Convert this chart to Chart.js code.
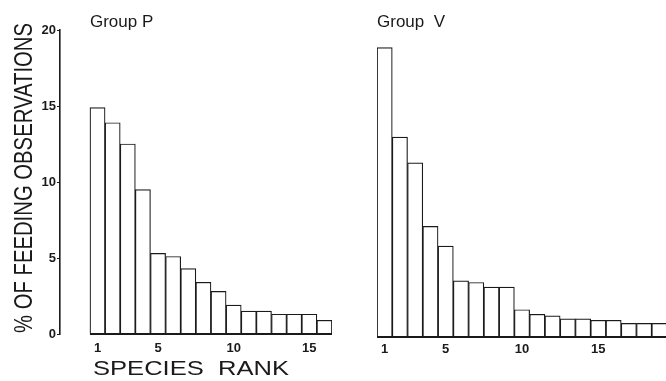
<!DOCTYPE html>
<html>
<head>
<meta charset="utf-8">
<script src="https://cdn.jsdelivr.net/npm/chart.js@4.4.1/dist/chart.umd.min.js"></script>
<style>
  html, body { margin: 0; padding: 0; background: #fff; overflow: hidden; }
  #wrap { position: relative; width: 666px; height: 381px; overflow: hidden; }
  #leftCanvas { position: absolute; left: 0; top: 0; }
  #rightCanvas { position: absolute; left: 340px; top: 0; }
</style>
</head>
<body>
<div id="wrap">
  <canvas id="leftCanvas" width="340" height="381"></canvas>
  <canvas id="rightCanvas" width="340" height="381"></canvas>
</div>
<script>
// species rank vs % of feeding observations, two groups
const ranksP = [1, 2, 3, 4, 5, 6, 7, 8, 9, 10, 11, 12, 13, 14, 15, 16];
const groupP = [14.9, 13.9, 12.5, 9.5, 5.3, 5.1, 4.3, 3.4, 2.8, 1.9, 1.5, 1.5, 1.3, 1.3, 1.3, 0.9];

const ranksV = [1, 2, 3, 4, 5, 6, 7, 8, 9, 10, 11, 12, 13, 14, 15, 16, 17, 18, 19];
const groupV = [19.1, 13.2, 11.5, 7.3, 6.0, 3.7, 3.6, 3.3, 3.3, 1.8, 1.5, 1.4, 1.2, 1.2, 1.1, 1.1, 0.9, 0.9, 0.9];

const rankTicks = [1, 5, 10, 15];
const percentTicks = [0, 5, 10, 15, 20];

const INK = '#1a1a1a';
const tickFont = { family: 'Liberation Sans, Arial, sans-serif', size: 13, weight: 'bold' };

// draws text stretched/squeezed horizontally to a given width
function fitText(ctx, text, x, y, width) {
  const w = ctx.measureText(text).width;
  ctx.save();
  ctx.translate(x, y);
  ctx.scale(width / w, 1);
  ctx.textAlign = 'center';
  ctx.fillText(text, 0, 0);
  ctx.restore();
}

// thick baseline under the bars plus the panel captions
const panelDecor = {
  id: 'panelDecor',
  afterDatasetsDraw(chart, args, opts) {
    const ctx = chart.ctx;
    const xs = chart.scales.x, ys = chart.scales.y;
    const n = chart.data.datasets[0].data.length;
    ctx.save();
    ctx.strokeStyle = INK;
    ctx.lineWidth = 2.2;
    ctx.beginPath();
    ctx.moveTo(xs.getPixelForValue(0.5), ys.getPixelForValue(0));
    ctx.lineTo(xs.getPixelForValue(n + 0.5), ys.getPixelForValue(0));
    ctx.stroke();

    ctx.fillStyle = INK;
    ctx.font = '17px "Liberation Sans", Arial, sans-serif';
    ctx.textAlign = 'left';
    ctx.textBaseline = 'alphabetic';
    ctx.fillText(opts.title, xs.getPixelForValue(0.5), 27);

    if (opts.xTitle) {
      ctx.font = '21px "Liberation Sans", Arial, sans-serif';
      fitText(ctx, opts.xTitle, 191, 375, 196);
    }
    if (opts.yTitle) {
      ctx.translate(32, 178);
      ctx.rotate(-Math.PI / 2);
      ctx.font = '26px "Liberation Sans", Arial, sans-serif';
      fitText(ctx, opts.yTitle, 0, 0, 310);
    }
    ctx.restore();
  }
};

function makePanel(id, ranks, values, cfg) {
  return new Chart(document.getElementById(id).getContext('2d'), {
    type: 'bar',
    data: {
      datasets: [{
        data: ranks.map((r, i) => ({ x: r, y: values[i] })),
        backgroundColor: '#ffffff',
        borderColor: INK,
        borderWidth: 1.2,
        barPercentage: 1,
        categoryPercentage: 1
      }]
    },
    options: {
      responsive: false,
      animation: false,
      events: [],
      layout: { padding: cfg.padding },
      plugins: {
        legend: { display: false },
        tooltip: { enabled: false },
        panelDecor: { title: cfg.title, xTitle: cfg.xTitle, yTitle: cfg.yTitle }
      },
      scales: {
        x: {
          type: 'linear',
          offset: false,
          min: cfg.xMin,
          max: ranks.length + 0.5,
          grid: { display: false, offset: false },
          border: { display: false },
          afterBuildTicks: s => { s.ticks = rankTicks.map(v => ({ value: v })); },
          afterFit: s => { s.height = cfg.xHeight; },
          ticks: { color: INK, font: tickFont, padding: cfg.xPad, maxRotation: 0 }
        },
        y: {
          display: cfg.showY,
          min: 0,
          max: 20,
          afterBuildTicks: s => { s.ticks = percentTicks.map(v => ({ value: v })); },
          afterFit: s => { s.width = cfg.showY ? 60 : 0; },
          grid: { display: true, drawOnChartArea: false, drawTicks: true, tickLength: 3, color: INK, lineWidth: 1 },
          border: { display: true, color: INK, width: 1.6 },
          ticks: { color: INK, font: tickFont, padding: 1 }
        }
      }
    },
    plugins: [panelDecor]
  });
}

makePanel('leftCanvas', ranksP, groupP, {
  title: 'Group P',
  xTitle: 'SPECIES  RANK',
  yTitle: '% OF FEEDING OBSERVATIONS',
  showY: true,
  xMin: -1.48,
  xHeight: 47,
  xPad: -1,
  padding: { top: 30, left: 0, right: 8, bottom: 0 }
});

makePanel('rightCanvas', ranksV, groupV, {
  title: 'Group  V',
  showY: false,
  xMin: 0.5,
  xHeight: 44,
  xPad: -3,
  padding: { top: 34, left: 37, right: 13, bottom: 0 }
});
</script>
</body>
</html>
